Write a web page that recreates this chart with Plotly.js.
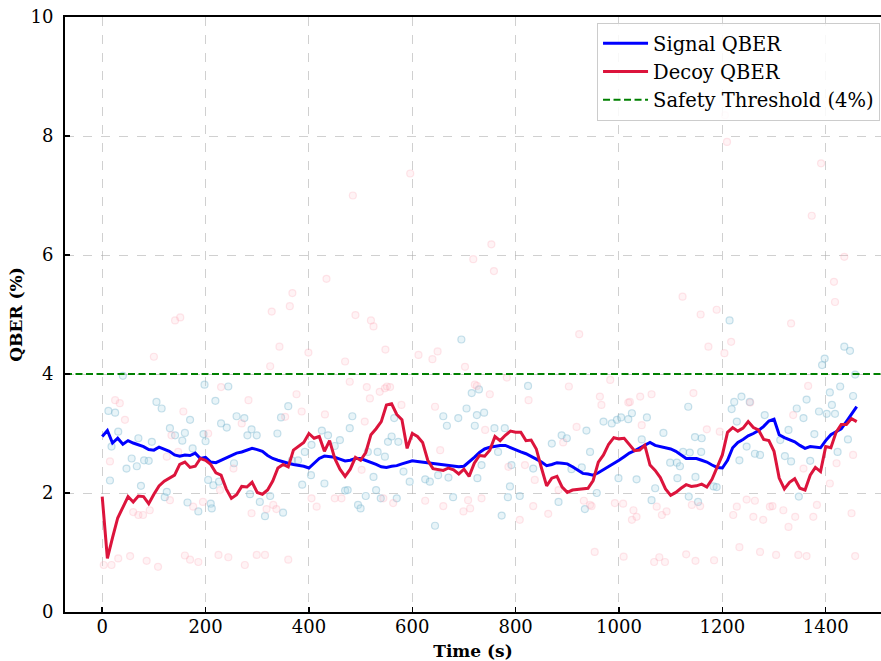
<!DOCTYPE html>
<html>
<head>
<meta charset="utf-8">
<script src="https://cdn.plot.ly/plotly-3.0.1.min.js"></script>
<style>html,body{margin:0;padding:0;background:#fff;}#chart{width:881px;height:661px;}</style>
</head>
<body>
<div id="chart"></div>
<script>
// Time axis (s) for smoothed curves
const timeS = [0,10,20,30,40,50,60,70,80,90,100,110,120,130,140,150,160,170,180,190,200,210,220,230,240,250,260,270,280,290,300,310,320,330,340,350,360,370,380,390,400,410,420,430,440,450,460,470,480,490,500,510,520,530,540,550,560,570,580,590,600,610,620,630,640,650,660,670,680,690,700,710,720,730,740,750,760,770,780,790,800,810,820,830,840,850,860,870,880,890,900,910,920,930,940,950,960,970,980,990,1000,1010,1020,1030,1040,1050,1060,1070,1080,1090,1100,1110,1120,1130,1140,1150,1160,1170,1180,1190,1200,1210,1220,1230,1240,1250,1260,1270,1280,1290,1300,1310,1320,1330,1340,1350,1360,1370,1380,1390,1400,1410,1420,1430,1440,1450,1460];

const signalQBER = [2.95,3.05,2.84,2.92,2.82,2.88,2.84,2.81,2.78,2.73,2.72,2.77,2.74,2.70,2.64,2.62,2.64,2.63,2.67,2.58,2.60,2.52,2.51,2.55,2.60,2.63,2.67,2.69,2.72,2.75,2.73,2.70,2.63,2.58,2.55,2.52,2.50,2.48,2.47,2.45,2.42,2.50,2.58,2.62,2.61,2.60,2.57,2.54,2.55,2.58,2.58,2.55,2.51,2.48,2.44,2.43,2.45,2.46,2.49,2.52,2.54,2.53,2.52,2.50,2.49,2.48,2.47,2.47,2.46,2.44,2.45,2.52,2.60,2.68,2.74,2.77,2.79,2.80,2.80,2.76,2.72,2.69,2.66,2.62,2.57,2.52,2.46,2.48,2.51,2.50,2.49,2.44,2.38,2.33,2.32,2.30,2.34,2.39,2.44,2.50,2.55,2.61,2.67,2.71,2.76,2.81,2.85,2.80,2.78,2.77,2.74,2.70,2.64,2.58,2.58,2.58,2.55,2.52,2.47,2.43,2.42,2.55,2.76,2.85,2.90,2.96,3.00,3.05,3.12,3.21,3.24,2.98,2.93,2.89,2.86,2.80,2.75,2.78,2.77,2.76,2.88,2.98,3.03,3.08,3.20,3.32,3.45];

const decoyQBER = [1.94,0.90,1.25,1.58,1.76,1.94,1.85,1.95,1.94,1.82,1.98,2.12,2.20,2.25,2.30,2.48,2.52,2.43,2.45,2.58,2.55,2.48,2.34,2.30,2.07,1.91,1.97,2.11,2.10,2.18,2.01,1.98,2.05,2.20,2.42,2.48,2.44,2.72,2.78,2.85,3.00,2.92,2.95,2.70,2.88,2.58,2.40,2.28,2.40,2.60,2.55,2.68,2.98,3.08,3.20,3.48,3.50,3.32,3.23,2.75,3.00,2.95,2.85,2.55,2.41,2.40,2.38,2.42,2.39,2.32,2.40,2.28,2.50,2.63,2.62,2.72,2.95,2.88,2.97,3.04,3.02,3.02,2.88,2.89,2.74,2.42,2.12,2.25,2.28,2.10,2.01,2.05,2.06,2.08,2.08,2.21,2.52,2.64,2.82,2.93,2.91,2.92,2.82,2.71,2.72,2.80,2.47,2.38,2.26,2.07,1.96,2.01,2.08,2.14,2.11,2.12,2.15,2.10,2.23,2.45,2.64,3.02,3.10,3.04,3.09,3.20,3.10,3.06,2.90,2.88,2.70,2.25,2.07,2.18,2.24,2.08,2.05,2.30,2.43,2.36,2.78,2.76,3.02,3.15,3.15,3.25,3.20];

// Raw (unsmoothed) measurements
const signalRawT = [12,15,18,25,31,40,47,57,67,70,75,81,90,96,105,115,121,125,131,141,155,160,165,170,175,186,196,198,200,205,210,212,215,219,226,230,241,244,255,260,275,281,286,289,299,305,315,325,339,346,350,360,367,379,387,392,404,405,425,430,437,450,460,470,475,479,484,495,500,510,514,525,530,533,539,547,553,560,565,570,573,583,595,625,634,644,650,660,667,670,679,689,695,705,715,721,725,726,729,734,739,759,766,773,779,785,789,792,808,824,834,870,883,889,899,908,928,934,937,944,957,970,986,996,999,1004,1018,1025,1034,1044,1054,1063,1070,1086,1099,1112,1113,1118,1124,1134,1135,1137,1147,1148,1153,1159,1160,1183,1189,1214,1218,1223,1228,1233,1237,1247,1253,1263,1273,1282,1312,1321,1328,1333,1344,1348,1357,1363,1370,1378,1387,1393,1398,1402,1408,1412,1418,1423,1428,1436,1443,1447,1453,1457];
const signalRawV = [3.38,2.21,2.78,3.35,3.03,3.97,2.41,2.58,2.45,2.92,2.12,2.55,2.54,2.86,3.53,3.42,1.93,2.02,3.09,2.97,2.88,3.01,1.84,3.23,2.75,1.69,2.99,3.82,2.87,2.22,1.82,1.74,2.13,3.55,2.19,3.17,3.10,3.79,2.50,3.29,3.26,2.97,1.98,3.07,2.97,1.85,1.61,1.95,3.00,3.27,1.67,3.46,2.55,2.55,2.14,2.69,2.30,2.81,3.05,2.16,2.97,2.79,2.89,2.04,2.05,3.09,3.29,1.80,1.74,1.95,2.69,2.27,2.05,2.69,1.91,2.61,2.86,2.95,3.26,1.91,2.86,2.36,2.19,2.23,2.19,1.45,2.30,3.29,3.13,2.26,1.93,3.26,4.58,3.42,3.68,3.13,3.31,2.25,3.74,2.47,3.35,3.09,2.69,1.62,3.09,1.93,2.11,2.47,1.95,3.80,2.41,2.83,1.85,2.97,2.92,2.40,2.43,1.73,3.05,2.69,2.00,3.20,3.17,3.23,2.25,3.27,3.24,3.34,2.23,2.90,3.27,1.88,2.08,3.01,2.51,2.51,2.25,2.45,2.69,3.45,1.94,2.68,2.94,2.27,1.85,2.69,2.92,2.11,2.10,4.90,3.41,3.53,3.20,2.55,3.62,2.78,3.53,2.66,2.64,3.31,2.89,2.62,3.06,2.53,3.42,1.94,3.26,3.57,2.54,2.99,3.37,4.15,4.26,3.33,3.69,3.48,3.33,2.69,3.79,4.46,2.90,4.39,3.63,3.99];

const decoyRawT = [3,15,18,25,31,34,44,54,60,70,79,86,92,100,108,125,131,134,141,147,151,157,160,170,176,186,195,205,225,228,230,244,254,270,276,283,289,299,315,318,325,328,331,337,343,354,360,363,368,376,386,399,405,415,431,434,450,463,470,479,485,490,502,508,512,518,520,525,537,544,547,548,551,557,563,579,596,612,625,639,644,649,654,660,699,702,708,712,718,721,725,734,741,750,753,758,783,786,808,818,825,834,837,863,883,892,903,918,923,932,944,947,953,963,966,983,992,1008,1009,1018,1021,1025,1028,1034,1041,1044,1063,1068,1073,1078,1083,1089,1092,1123,1130,1141,1144,1148,1157,1158,1170,1173,1184,1189,1195,1204,1205,1209,1217,1221,1228,1233,1247,1254,1260,1263,1273,1279,1292,1297,1304,1318,1328,1333,1337,1341,1347,1357,1363,1366,1373,1376,1383,1391,1408,1416,1418,1421,1436,1450,1453,1457];
const decoyRawV = [0.79,2.53,0.79,3.56,0.90,3.51,3.23,0.94,1.68,1.63,1.63,0.86,1.71,4.29,0.76,2.61,1.88,2.97,4.90,2.69,4.95,3.37,0.95,0.88,1.77,0.84,1.85,3.00,0.96,2.05,3.78,0.92,2.41,3.17,0.79,3.56,1.66,0.96,0.96,1.73,4.13,5.05,1.80,1.73,4.46,3.28,0.88,5.14,5.36,3.66,3.37,4.36,1.91,1.77,3.32,5.60,1.91,1.91,4.21,3.87,7.00,4.99,2.39,3.20,3.78,3.59,4.90,4.80,3.70,1.91,3.76,4.41,3.79,3.78,1.83,3.48,7.37,4.32,1.87,4.25,3.45,4.38,2.72,1.78,1.69,4.12,1.88,1.74,5.93,3.82,3.80,1.91,3.06,3.66,6.18,5.73,3.94,2.44,1.55,2.47,3.56,1.78,2.22,1.65,2.05,2.85,3.79,3.11,4.67,1.87,1.80,1.78,1.01,3.62,3.48,3.90,1.83,1.82,0.93,3.52,3.53,1.55,1.71,1.60,3.62,3.14,3.66,0.84,1.77,0.92,1.63,0.84,1.69,5.30,0.97,1.80,3.68,0.86,1.78,5.00,3.07,4.46,0.87,5.08,3.03,4.35,8.35,7.90,4.54,1.63,1.77,1.09,1.89,3.52,1.60,1.87,1.01,1.55,1.77,1.78,0.96,1.71,1.43,4.85,3.31,1.60,0.96,2.41,0.94,3.80,6.66,1.60,1.80,7.54,2.16,5.55,5.21,2.50,5.97,1.66,2.64,0.94];

const threshold = 4;
const xRange = [-72, 1507];
const yRange = [0, 10];
const xTicks = [0,200,400,600,800,1000,1200,1400];
const yTicks = [0,2,4,6,8,10];

const FONT = '"DejaVu Serif"';

const traces = [
  {x: signalRawT, y: signalRawV, type: 'scatter', mode: 'markers', showlegend: false, hoverinfo: 'skip',
   marker: {size: 7, color: 'rgba(173,216,230,0.28)', line: {color: 'rgba(120,180,205,0.4)', width: 1.2}}},
  {x: decoyRawT, y: decoyRawV, type: 'scatter', mode: 'markers', showlegend: false, hoverinfo: 'skip',
   marker: {size: 7, color: 'rgba(255,182,193,0.16)', line: {color: 'rgba(250,160,175,0.25)', width: 1.2}}},
  {x: timeS, y: signalQBER, type: 'scatter', mode: 'lines', name: 'Signal QBER',
   line: {color: '#0000ff', width: 3}},
  {x: timeS, y: decoyQBER, type: 'scatter', mode: 'lines', name: 'Decoy QBER',
   line: {color: '#dc143c', width: 3}},
  {x: xRange, y: [threshold, threshold], type: 'scatter', mode: 'lines', name: 'Safety Threshold (4%)',
   line: {color: '#008000', width: 2, dash: '7px,3.5px'}}
];

const layout = {
  width: 881, height: 661,
  margin: {l: 65, r: 0, t: 17, b: 49, autoexpand: false},
  paper_bgcolor: '#ffffff', plot_bgcolor: '#ffffff',
  font: {family: FONT, color: '#000', size: 18},
  showlegend: true,
  legend: {x: 0.652, xanchor: 'left', y: 0.99, yanchor: 'top', itemwidth: 45,
    bgcolor: 'rgba(255,255,255,0.85)', bordercolor: '#cccccc', borderwidth: 1,
    font: {family: FONT, size: 19.5, color: '#000'}, tracegroupgap: 0},
  xaxis: {
    range: xRange, tickvals: xTicks, ticktext: xTicks.map(String),
    showline: true, linecolor: '#000', linewidth: 2, mirror: true,
    ticks: 'inside', ticklen: 5, tickwidth: 1.5, tickcolor: '#000',
    ticklabelstandoff: -3,
    showgrid: true, gridcolor: 'rgba(170,170,170,0.55)', gridwidth: 1, griddash: 'dash',
    zeroline: false,
    tickfont: {family: FONT, size: 18, color: '#000'},
    title: {text: '<b>Time (s)</b>', font: {family: FONT, size: 17, color: '#000'}, standoff: 12}
  },
  yaxis: {
    range: yRange, tickvals: yTicks, ticktext: yTicks.map(String),
    showline: true, linecolor: '#000', linewidth: 2, mirror: false,
    ticks: 'inside', ticklen: 5, tickwidth: 1.5, tickcolor: '#000',
    ticklabelstandoff: 6,
    showgrid: true, gridcolor: 'rgba(170,170,170,0.55)', gridwidth: 1, griddash: 'dash',
    zeroline: false,
    tickfont: {family: FONT, size: 18, color: '#000'},
    title: {text: '<b>QBER (%)</b>', font: {family: FONT, size: 17, color: '#000'}, standoff: 4}
  }
};

Plotly.newPlot('chart', traces, layout, {displayModeBar: false, staticPlot: true});
</script>
</body>
</html>
